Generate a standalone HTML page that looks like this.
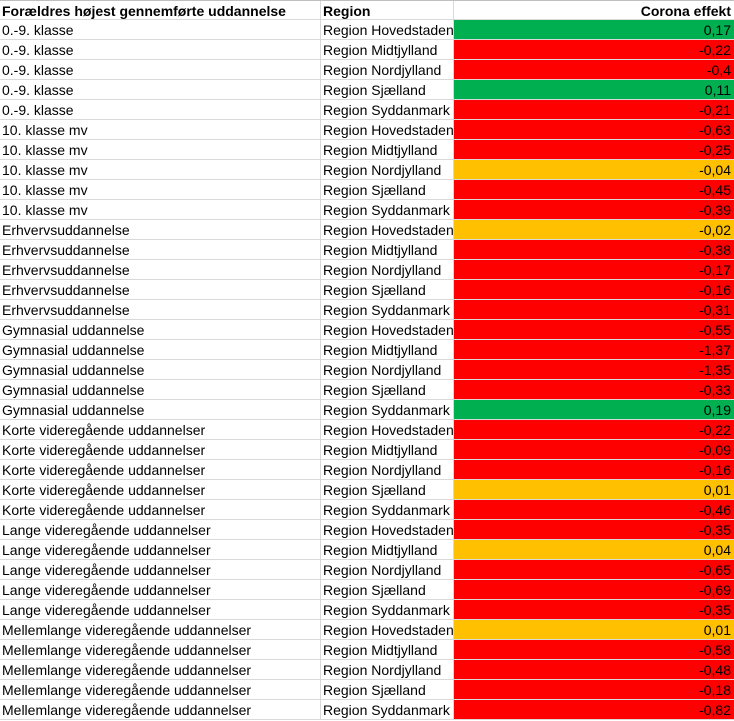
<!DOCTYPE html>
<html><head><meta charset="utf-8">
<style>
body{margin:0;background:#fff;font-family:"Liberation Sans",sans-serif;font-size:14px;color:#000}
#sheet{position:absolute;left:0;top:0;width:734px;height:721px;overflow:hidden}
.row{position:absolute;left:0;width:734px;height:20px;border-bottom:1px solid #d9d9d9;box-sizing:border-box}
.c{position:absolute;top:0;height:19px;line-height:20px;white-space:nowrap;overflow:visible;box-sizing:border-box}
.c1{left:0;width:321px;padding-left:2px;border-right:1px solid #d9d9d9}
.c2{left:321px;width:133px;padding-left:2px;border-right:1px solid #d9d9d9;z-index:2}
.c3{left:454px;width:280px;padding-right:3px;text-align:right}
.hdr{font-weight:bold;border-top:1px solid #bfbfbf}
</style></head>
<body>
<div id="sheet"></div>
<script>
const educations=["0.-9. klasse","10. klasse mv","Erhvervsuddannelse","Gymnasial uddannelse","Korte videregående uddannelser","Lange videregående uddannelser","Mellemlange videregående uddannelser"];
const regions=["Region Hovedstaden","Region Midtjylland","Region Nordjylland","Region Sjælland","Region Syddanmark"];
const effects=[0.17,-0.22,-0.4,0.11,-0.21,
-0.63,-0.25,-0.04,-0.45,-0.39,
-0.02,-0.38,-0.17,-0.16,-0.31,
-0.55,-1.37,-1.35,-0.33,0.19,
-0.22,-0.09,-0.16,0.01,-0.46,
-0.35,0.04,-0.65,-0.69,-0.35,
0.01,-0.58,-0.48,-0.18,-0.82];
const headers=["Forældres højest gennemførte uddannelse","Region","Corona effekt"];
const sheet=document.getElementById('sheet');
function color(v){return v>0.05?'#00b050':(v>-0.05?'#ffc000':'#ff0000');}
function mkRow(i,vals,isHdr,bg){
  const r=document.createElement('div');
  r.className='row'+(isHdr?' hdr':'');
  r.style.top=(i*20)+'px';
  
  
  vals.forEach((t,k)=>{
    const c=document.createElement('div');
    c.className='c c'+(k+1);
    c.textContent=t;
    if(k===2&&bg){c.style.background=bg;}
    
    
    r.appendChild(c);
  });
  sheet.appendChild(r);
}
mkRow(0,headers,true,null);
effects.forEach((v,i)=>{
  const ed=educations[Math.floor(i/regions.length)];
  const rg=regions[i%regions.length];
  mkRow(i+1,[ed,rg,String(v).replace('.',',')],false,color(v));
});
</script>
</body></html>
